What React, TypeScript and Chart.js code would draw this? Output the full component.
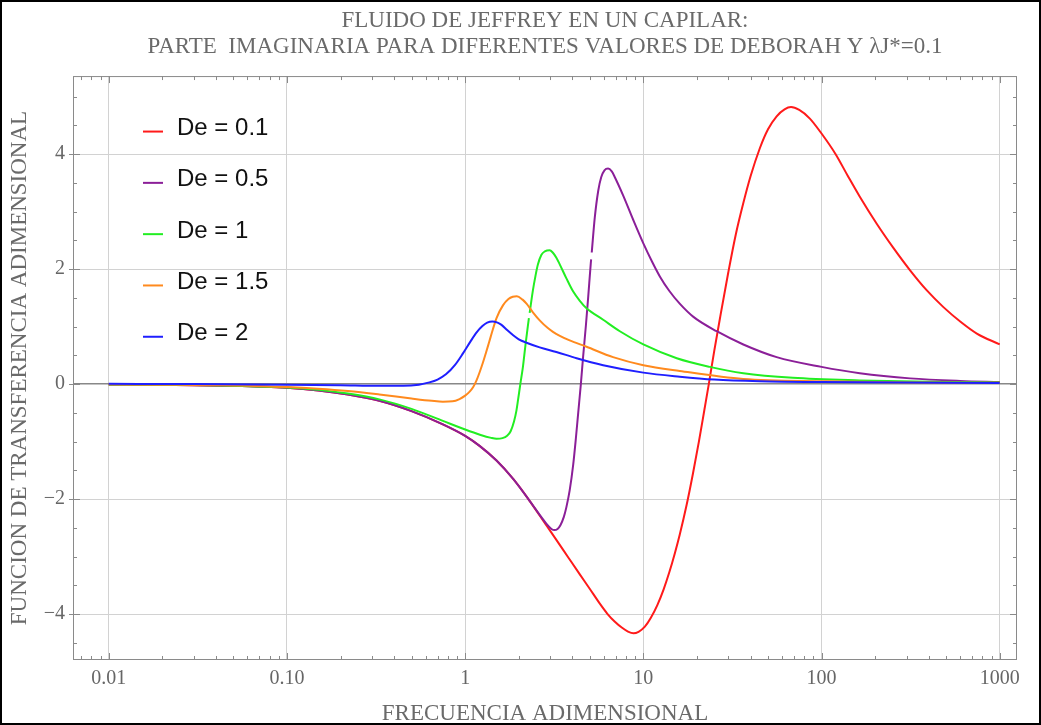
import { useEffect, useRef } from "react";
import { Chart, registerables } from "chart.js";

Chart.register(...registerables);

const titleLines = [
  "FLUIDO DE JEFFREY EN UN CAPILAR:",
  "PARTE  IMAGINARIA PARA DIFERENTES VALORES DE DEBORAH Y λJ*=0.1",
];
const xAxisTitle = "FRECUENCIA ADIMENSIONAL";
const yAxisTitle = "FUNCION DE TRANSFERENCIA ADIMENSIONAL";

const seriesLabels = ["De = 0.1", "De = 0.5", "De = 1", "De = 1.5", "De = 2"];
const seriesColors = ["#ff1a1a", "#8b1f98", "#22ee22", "#ff8a1e", "#1f1fff"];

const xTickValues = [0.01, 0.1, 1, 10, 100, 1000];
const xTickLabels = ["0.01", "0.10", "1", "10", "100", "1000"];
const yTickValues = [-4, -2, 0, 2, 4];
const xMin = 0.0063;
const xMax = 1250;
const yMin = -4.8;
const yMax = 5.36;

// De = 0.1
const freqDe01 = [0.01, 0.02, 0.05, 0.1, 0.15, 0.22, 0.33, 0.5, 0.75, 1, 1.2, 1.5, 1.86, 2.3, 2.86, 3.25, 3.8, 4.4, 5, 5.7, 6.3, 6.9, 7.6, 8.2, 8.8, 9.4, 10.2, 11, 12, 13, 14, 15, 16, 17.5, 19, 20.5, 22, 23.3, 25, 27, 30, 33, 36.4, 40, 45, 50, 56, 62, 67.4, 75, 86, 100, 120, 140, 164, 204, 253, 314, 390, 483, 600, 744, 1000];
const valDe01 = [-0.005, -0.012, -0.03, -0.065, -0.11, -0.18, -0.29, -0.47, -0.7, -0.9, -1.07, -1.33, -1.65, -2.03, -2.46, -2.71, -3.02, -3.31, -3.56, -3.82, -4.0, -4.13, -4.24, -4.305, -4.335, -4.31, -4.22, -4.07, -3.84, -3.57, -3.27, -2.95, -2.62, -2.1, -1.55, -1.0, -0.45, 0, 0.58, 1.17, 1.95, 2.6, 3.15, 3.62, 4.1, 4.43, 4.66, 4.78, 4.82, 4.77, 4.62, 4.36, 4.0, 3.63, 3.26, 2.79, 2.37, 1.98, 1.63, 1.34, 1.09, 0.88, 0.69];

// De = 0.5
const freqDe05 = [0.01, 0.02, 0.05, 0.1, 0.15, 0.22, 0.33, 0.5, 0.75, 1, 1.2, 1.5, 1.86, 2.3, 2.86, 3.05, 3.17, 3.3, 3.43, 3.58, 3.7, 3.86, 4.04, 4.18, 4.31, 4.46, 4.59, 4.76, 4.9, 5.07, 5.094, 5.11, 5.134, 5.34, 5.58, 5.8, 6.05, 6.34, 6.65, 6.92, 7.71, 8.77, 10, 11.2, 12.4, 14, 16, 19.1, 25.8, 36.4, 56, 100, 164, 314, 600, 1000];
const valDe05 = [-0.005, -0.012, -0.03, -0.065, -0.11, -0.18, -0.29, -0.47, -0.7, -0.9, -1.07, -1.33, -1.65, -2.03, -2.43, -2.52, -2.54, -2.52, -2.45, -2.31, -2.14, -1.85, -1.4, -0.95, -0.5, 0, 0.47, 1.02, 1.5, 2.1, 2.17, null, 2.29, 2.9, 3.36, 3.6, 3.72, 3.75, 3.7, 3.6, 3.28, 2.86, 2.45, 2.13, 1.87, 1.62, 1.4, 1.17, 0.92, 0.69, 0.47, 0.3, 0.19, 0.1, 0.055, 0.035];

// De = 1
const freqDe1 = [0.01, 0.02, 0.05, 0.1, 0.15, 0.22, 0.33, 0.5, 0.75, 1, 1.21, 1.4, 1.5, 1.62, 1.72, 1.8, 1.88, 1.94, 1.98, 2.04, 2.11, 2.18, 2.279, 2.29, 2.302, 2.4, 2.48, 2.56, 2.68, 2.8, 2.98, 3.1, 3.25, 3.4, 3.7, 4.04, 4.4, 4.8, 5.95, 7.38, 10, 15.4, 23.6, 36.4, 69, 164, 400, 1000];
const valDe1 = [-0.005, -0.011, -0.028, -0.06, -0.1, -0.165, -0.265, -0.43, -0.64, -0.79, -0.88, -0.935, -0.95, -0.94, -0.9, -0.82, -0.65, -0.46, -0.28, 0, 0.3, 0.68, 1.15, null, 1.24, 1.63, 1.88, 2.08, 2.25, 2.31, 2.33, 2.29, 2.2, 2.08, 1.84, 1.61, 1.45, 1.32, 1.12, 0.92, 0.69, 0.45, 0.3, 0.19, 0.11, 0.065, 0.04, 0.03];

// De = 1.5
const freqDe15 = [0.01, 0.02, 0.05, 0.1, 0.15, 0.22, 0.33, 0.5, 0.65, 0.75, 0.85, 0.93, 1, 1.06, 1.11, 1.16, 1.21, 1.26, 1.31, 1.36, 1.43, 1.5, 1.63, 1.75, 1.85, 1.95, 2.1, 2.21, 2.4, 2.62, 2.9, 3.11, 3.4, 3.86, 4.8, 6.76, 10, 16, 36.4, 107, 300, 1000];
const valDe15 = [-0.004, -0.009, -0.022, -0.05, -0.08, -0.12, -0.18, -0.25, -0.29, -0.305, -0.3, -0.26, -0.2, -0.13, -0.05, 0.07, 0.22, 0.38, 0.55, 0.72, 0.95, 1.15, 1.37, 1.48, 1.52, 1.53, 1.47, 1.4, 1.25, 1.11, 0.98, 0.91, 0.84, 0.76, 0.65, 0.47, 0.33, 0.23, 0.09, 0.05, 0.03, 0.025];

// De = 2
const freqDe2 = [0.01, 0.03, 0.1, 0.2, 0.33, 0.45, 0.55, 0.63, 0.7, 0.78, 0.88, 0.97, 1.07, 1.16, 1.25, 1.33, 1.42, 1.52, 1.6, 1.72, 1.86, 2, 2.21, 2.62, 3.25, 4.22, 5.95, 10, 16, 25, 45, 100, 1000];
const valDe2 = [0.005, 0, -0.01, -0.02, -0.03, -0.03, -0.01, 0.03, 0.08, 0.17, 0.34, 0.53, 0.74, 0.9, 1.01, 1.07, 1.09, 1.07, 1.03, 0.94, 0.85, 0.78, 0.72, 0.64, 0.56, 0.45, 0.33, 0.2, 0.13, 0.08, 0.05, 0.035, 0.02];

const seriesFreqs = [freqDe01, freqDe05, freqDe1, freqDe15, freqDe2];
const seriesVals = [valDe01, valDe05, valDe1, valDe15, valDe2];

const SERIF = "'Liberation Serif', 'Times New Roman', serif";
const SANS = "'Liberation Sans', Arial, sans-serif";
const TEXT_GRAY = "#6a6a6a";
const FRAME_GRAY = "#8a8a8a";

const framePlugin = {
  id: "frameTicks",
  beforeDatasetsDraw(chart: any) {
    const { ctx, chartArea: a, scales } = chart;
    const xs = scales.x;
    const ys = scales.y;
    ctx.save();
    ctx.strokeStyle = FRAME_GRAY;
    ctx.lineWidth = 1;
    ctx.strokeRect(a.left + 0.5, a.top + 0.5, a.right - a.left - 1, a.bottom - a.top - 1);
    ctx.beginPath();
    for (let e = -3; e <= 3; e++) {
      for (let m = 1; m <= 9; m++) {
        const v = m * Math.pow(10, e);
        if (v <= xMin || v >= xMax) continue;
        const len = m === 1 ? 7 : 4;
        const px = Math.round(xs.getPixelForValue(v)) + 0.5;
        ctx.moveTo(px, a.bottom);
        ctx.lineTo(px, a.bottom - len);
        ctx.moveTo(px, a.top);
        ctx.lineTo(px, a.top + len);
      }
    }
    for (let k = -9; k <= 10; k++) {
      const v = k / 2;
      if (v <= yMin || v >= yMax) continue;
      const major = k % 4 === 0;
      const len = major ? 7 : 4;
      const py = Math.round(ys.getPixelForValue(v)) + 0.5;
      ctx.moveTo(a.left, py);
      ctx.lineTo(a.left + len, py);
      ctx.moveTo(a.right, py);
      ctx.lineTo(a.right - len, py);
      if (major) {
        ctx.moveTo(a.left - 4, py);
        ctx.lineTo(a.left, py);
      }
    }
    ctx.stroke();
    ctx.restore();
  },
};

const legendPlugin = {
  id: "insideLegend",
  afterDatasetsDraw(chart: any) {
    const { ctx, chartArea: a } = chart;
    ctx.save();
    ctx.font = `24px ${SANS}`;
    ctx.textBaseline = "alphabetic";
    ctx.textAlign = "left";
    seriesLabels.forEach((lab, i) => {
      const base = a.top + 59 + i * 51.3;
      ctx.strokeStyle = seriesColors[i];
      ctx.lineWidth = 2;
      ctx.beginPath();
      ctx.moveTo(a.left + 70, base - 3.5);
      ctx.lineTo(a.left + 90, base - 3.5);
      ctx.stroke();
      ctx.fillStyle = "#111111";
      ctx.fillText(lab, a.left + 104, base);
    });
    ctx.restore();
  },
};

export default function App() {
  const canvasRef = useRef<HTMLCanvasElement | null>(null);

  useEffect(() => {
    if (!canvasRef.current) return;
    const datasets = seriesLabels.map((label, i) => ({
      label,
      data: seriesFreqs[i].map((f, j) => ({ x: f, y: seriesVals[i][j] })),
      borderColor: seriesColors[i],
      backgroundColor: seriesColors[i],
      borderWidth: 2,
      pointRadius: 0,
      fill: false,
      spanGaps: false,
      cubicInterpolationMode: "monotone" as const,
      order: seriesLabels.length - 1 - i,
    }));

    const chart = new Chart(canvasRef.current, {
      type: "line",
      data: { datasets },
      options: {
        responsive: false,
        animation: false,
        events: [],
        layout: { padding: { left: 0, right: 24, top: 0, bottom: 0 } },
        plugins: {
          legend: { display: false },
          tooltip: { enabled: false },
          title: {
            display: true,
            text: titleLines,
            color: TEXT_GRAY,
            fullSize: false,
            font: { family: SERIF, size: 23, weight: "normal", lineHeight: 1.11 },
            padding: { top: 8.5, bottom: 16.5 },
          },
        },
        scales: {
          x: {
            type: "logarithmic",
            min: xMin,
            max: xMax,
            afterBuildTicks: (s: any) => {
              s.ticks = xTickValues.map((v) => ({ value: v }));
            },
            afterFit: (s: any) => {
              s.height = 65;
            },
            ticks: {
              autoSkip: false,
              maxRotation: 0,
              color: "#666666",
              padding: 7,
              font: { family: SERIF, size: 20 },
              callback: (value: any) => {
                const idx = xTickValues.findIndex((t) => Math.abs(t - value) / t < 1e-6);
                return idx >= 0 ? xTickLabels[idx] : "";
              },
            },
            grid: { color: "#d2d2d2", lineWidth: 1, drawTicks: false },
            border: { display: false },
            title: {
              display: true,
              text: xAxisTitle,
              color: TEXT_GRAY,
              font: { family: SERIF, size: 23, lineHeight: 1 },
              padding: 0,
            },
          },
          y: {
            type: "linear",
            min: yMin,
            max: yMax,
            afterBuildTicks: (s: any) => {
              s.ticks = yTickValues.map((v) => ({ value: v }));
            },
            afterFit: (s: any) => {
              s.width = 73;
            },
            ticks: {
              color: "#666666",
              padding: 8,
              font: { family: SERIF, size: 20 },
              callback: (value: any) => (value < 0 ? "−" + Math.abs(value) : String(value)),
            },
            grid: {
              drawTicks: false,
              color: (c: any) => (c.tick && c.tick.value === 0 ? "#888888" : "#d2d2d2"),
              lineWidth: (c: any) => (c.tick && c.tick.value === 0 ? 1.6 : 1),
            },
            border: { display: false },
            title: {
              display: true,
              text: yAxisTitle,
              color: TEXT_GRAY,
              font: { family: SERIF, size: 23, lineHeight: 1.2 },
              padding: { top: 6.2, bottom: 0 },
            },
          },
        },
      },
      plugins: [framePlugin, legendPlugin],
    });

    return () => chart.destroy();
  }, []);

  return (
    <div style={{ position: "fixed", left: 0, top: 0, width: 1041, height: 725, background: "#ffffff" }}>
      <canvas ref={canvasRef} width={1041} height={725} style={{ display: "block", width: 1041, height: 725 }} />
      <div
        style={{
          position: "absolute",
          left: 0,
          top: 0,
          width: 1041,
          height: 725,
          border: "2px solid #000",
          boxSizing: "border-box",
          pointerEvents: "none",
        }}
      />
    </div>
  );
}
